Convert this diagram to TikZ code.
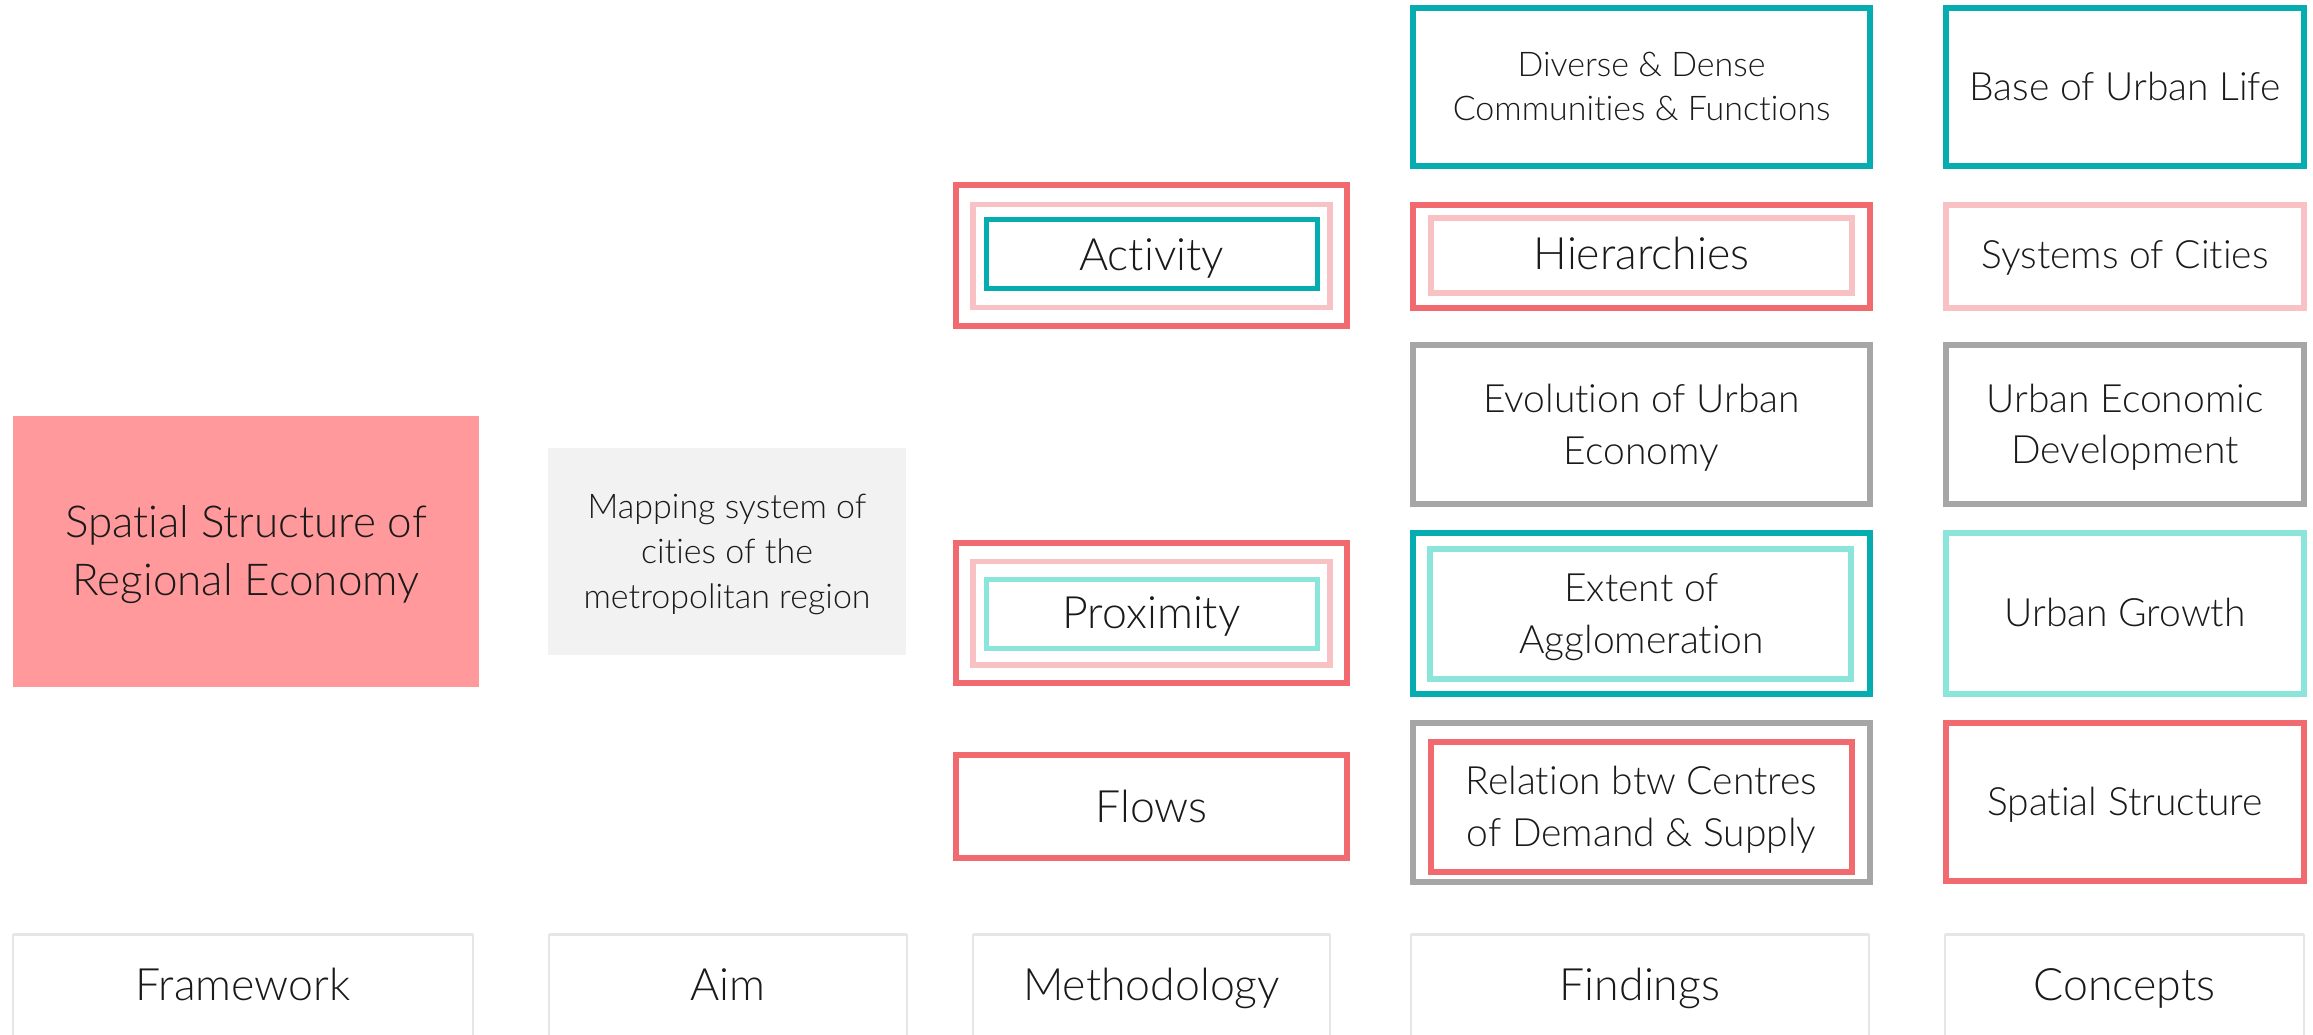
\documentclass[tikz,border=0pt]{standalone}
\usepackage{fontspec}
\setmainfont{Lato Light}[Ligatures=NoCommon]
\definecolor{cred}{HTML}{F06A70}
\definecolor{cpink}{HTML}{F8C1C4}
\definecolor{cteal}{HTML}{05ADB1}
\definecolor{ctealL}{HTML}{8BE5DA}
\definecolor{cgray}{HTML}{A6A6A6}
\definecolor{chead}{HTML}{E6E6E6}
\definecolor{csalmon}{HTML}{FF999B}
\definecolor{cfill}{HTML}{F2F2F2}
\definecolor{ctext}{HTML}{1A1A1A}
\tikzset{
  bx/.style={rectangle, inner sep=0pt, outer sep=0pt},
  redbox/.style={bx, draw=cred, line width=3pt},
  pinkbox/.style={bx, draw=cpink, line width=2.8pt},
  tealbox/.style={bx, draw=cteal, line width=3pt},
  teallt/.style={bx, draw=ctealL, line width=2.6pt},
  graybox/.style={bx, draw=cgray, line width=3pt},
  headbox/.style={bx, draw=chead, line width=1pt},
  txt/.style={anchor=base, inner sep=0pt, text=ctext},
  tbig/.style={txt, font=\fontsize{22.3}{26}\selectfont},
  tmid/.style={txt, font=\fontsize{19.5}{23}\selectfont},
  tsmall/.style={txt, font=\fontsize{17}{20}\selectfont},
  tframe/.style={txt, font=\fontsize{22}{26}\selectfont},
}
\begin{document}
\begin{tikzpicture}[x=0.5pt, y=-0.5pt]
\useasboundingbox (0,0) rectangle (2313,1034);
\clip (0,0) rectangle (2313,1034);
\fill[white] (0,0) rectangle (2313,1034);

% Framework and Aim
\node[bx, fill=csalmon, minimum width=233pt, minimum height=135.5pt] (frame) at (246,551.5) {};
\node[tframe] (frame-t1) at (246,537) {Spatial Structure of};
\node[tframe] (frame-t2) at (246,595) {Regional Economy};
\node[bx, fill=cfill, minimum width=179pt, minimum height=103.5pt] (aim) at (727,551.5) {};
\node[tsmall] (aim-t1) at (727,518) {Mapping system of};
\node[tsmall] (aim-t2) at (727,563) {cities of the};
\node[tsmall] (aim-t3) at (727,608) {metropolitan region};

% Methodology
\node[redbox, minimum width=195.5pt, minimum height=70.5pt] (actO) at (1151.5,255.5) {};
\node[pinkbox, minimum width=178.5pt, minimum height=51.5pt] (actM) at (1151.5,256) {};
\node[tealbox, line width=2.5pt, minimum width=165.5pt, minimum height=34.5pt] (actI) at (1152,253.5) {};
\node[tbig] (act-t) at (1151.5,270) {Activity};

\node[redbox, minimum width=195.5pt, minimum height=70pt] (proxO) at (1151.5,613) {};
\node[pinkbox, minimum width=178.5pt, minimum height=51.75pt] (proxM) at (1151.5,613.25) {};
\node[teallt, line width=2.5pt, minimum width=165.5pt, minimum height=34.5pt] (proxI) at (1152,613.5) {};
\node[tbig] (prox-t) at (1151.5,628) {Proximity};

\node[redbox, minimum width=195.5pt, minimum height=51.5pt] (flows) at (1151.5,806.5) {};
\node[tbig] (flows-t) at (1151.5,822) {Flows};

% Findings
\node[tealbox, minimum width=228.5pt, minimum height=79pt] (div) at (1641.5,86.5) {};
\node[tsmall] (div-t1) at (1641.5,76) {Diverse \& Dense};
\node[tsmall] (div-t2) at (1641.5,120) {Communities \& Functions};

\node[redbox, minimum width=228.5pt, minimum height=51.5pt] (hierO) at (1641.5,256.5) {};
\node[pinkbox, minimum width=210.5pt, minimum height=37.5pt] (hierI) at (1641.5,255.5) {};
\node[tbig] (hier-t) at (1641.5,269) {Hierarchies};

\node[graybox, minimum width=228.5pt, minimum height=79.5pt] (evol) at (1641.5,424.75) {};
\node[tmid] (evol-t1) at (1641.5,412) {Evolution of Urban};
\node[tmid] (evol-t2) at (1641.5,464) {Economy};

\node[tealbox, minimum width=228.5pt, minimum height=80.5pt] (extO) at (1641.5,613.5) {};
\node[teallt, minimum width=210.5pt, minimum height=65pt] (extI) at (1640.5,614) {};
\node[tmid] (ext-t1) at (1641.5,601) {Extent of};
\node[tmid] (ext-t2) at (1641.5,653) {Agglomeration};

\node[graybox, minimum width=228.5pt, minimum height=79.5pt] (relO) at (1641.5,802.5) {};
\node[redbox, minimum width=210.5pt, minimum height=65pt] (relI) at (1641.5,807) {};
\node[tmid] (rel-t1) at (1641.5,794) {Relation btw Centres};
\node[tmid] (rel-t2) at (1641.5,846) {of Demand \& Supply};

% Concepts
\node[tealbox, minimum width=179pt, minimum height=79pt] (base) at (2125,86.5) {};
\node[tmid] (base-t) at (2125,100) {Base of Urban Life};
\node[pinkbox, minimum width=179pt, minimum height=51.5pt] (sys) at (2125,256.5) {};
\node[tmid] (sys-t) at (2125,268) {Systems of Cities};
\node[graybox, minimum width=179pt, minimum height=79.5pt] (ued) at (2125,424.5) {};
\node[tmid] (ued-t1) at (2125,412) {Urban Economic};
\node[tmid] (ued-t2) at (2125,463.5) {Development};
\node[teallt, line width=3pt, minimum width=179pt, minimum height=80.5pt] (grow) at (2125,613.5) {};
\node[tmid] (grow-t) at (2125,626) {Urban Growth};
\node[redbox, minimum width=179pt, minimum height=79pt] (spat) at (2125,802) {};
\node[tmid] (spat-t) at (2125,815) {Spatial Structure};

% Header row
\node[headbox, minimum width=230pt, minimum height=82.75pt] (hF) at (243,1017.25) {};
\node[headbox, minimum width=179pt, minimum height=82.75pt] (hA) at (728,1017.25) {};
\node[headbox, minimum width=178.5pt, minimum height=82.75pt] (hM) at (1151.5,1017.25) {};
\node[headbox, minimum width=229pt, minimum height=82.75pt] (hFi) at (1640,1017.25) {};
\node[headbox, minimum width=179.5pt, minimum height=82.75pt] (hC) at (2124.5,1017.25) {};
\foreach \h in {hF,hA,hM,hFi,hC}{
  \draw[chead, line width=1.6pt] (\h.north west) -- (\h.north east);
}
\node[tbig] (hF-t) at (243,1000) {Framework};
\node[tbig] (hA-t) at (728,1000) {Aim};
\node[tbig] (hM-t) at (1151.5,1000) {Methodology};
\node[tbig] (hFi-t) at (1640,1000) {Findings};
\node[tbig] (hC-t) at (2124.5,1000) {Concepts};
\end{tikzpicture}
\end{document}
